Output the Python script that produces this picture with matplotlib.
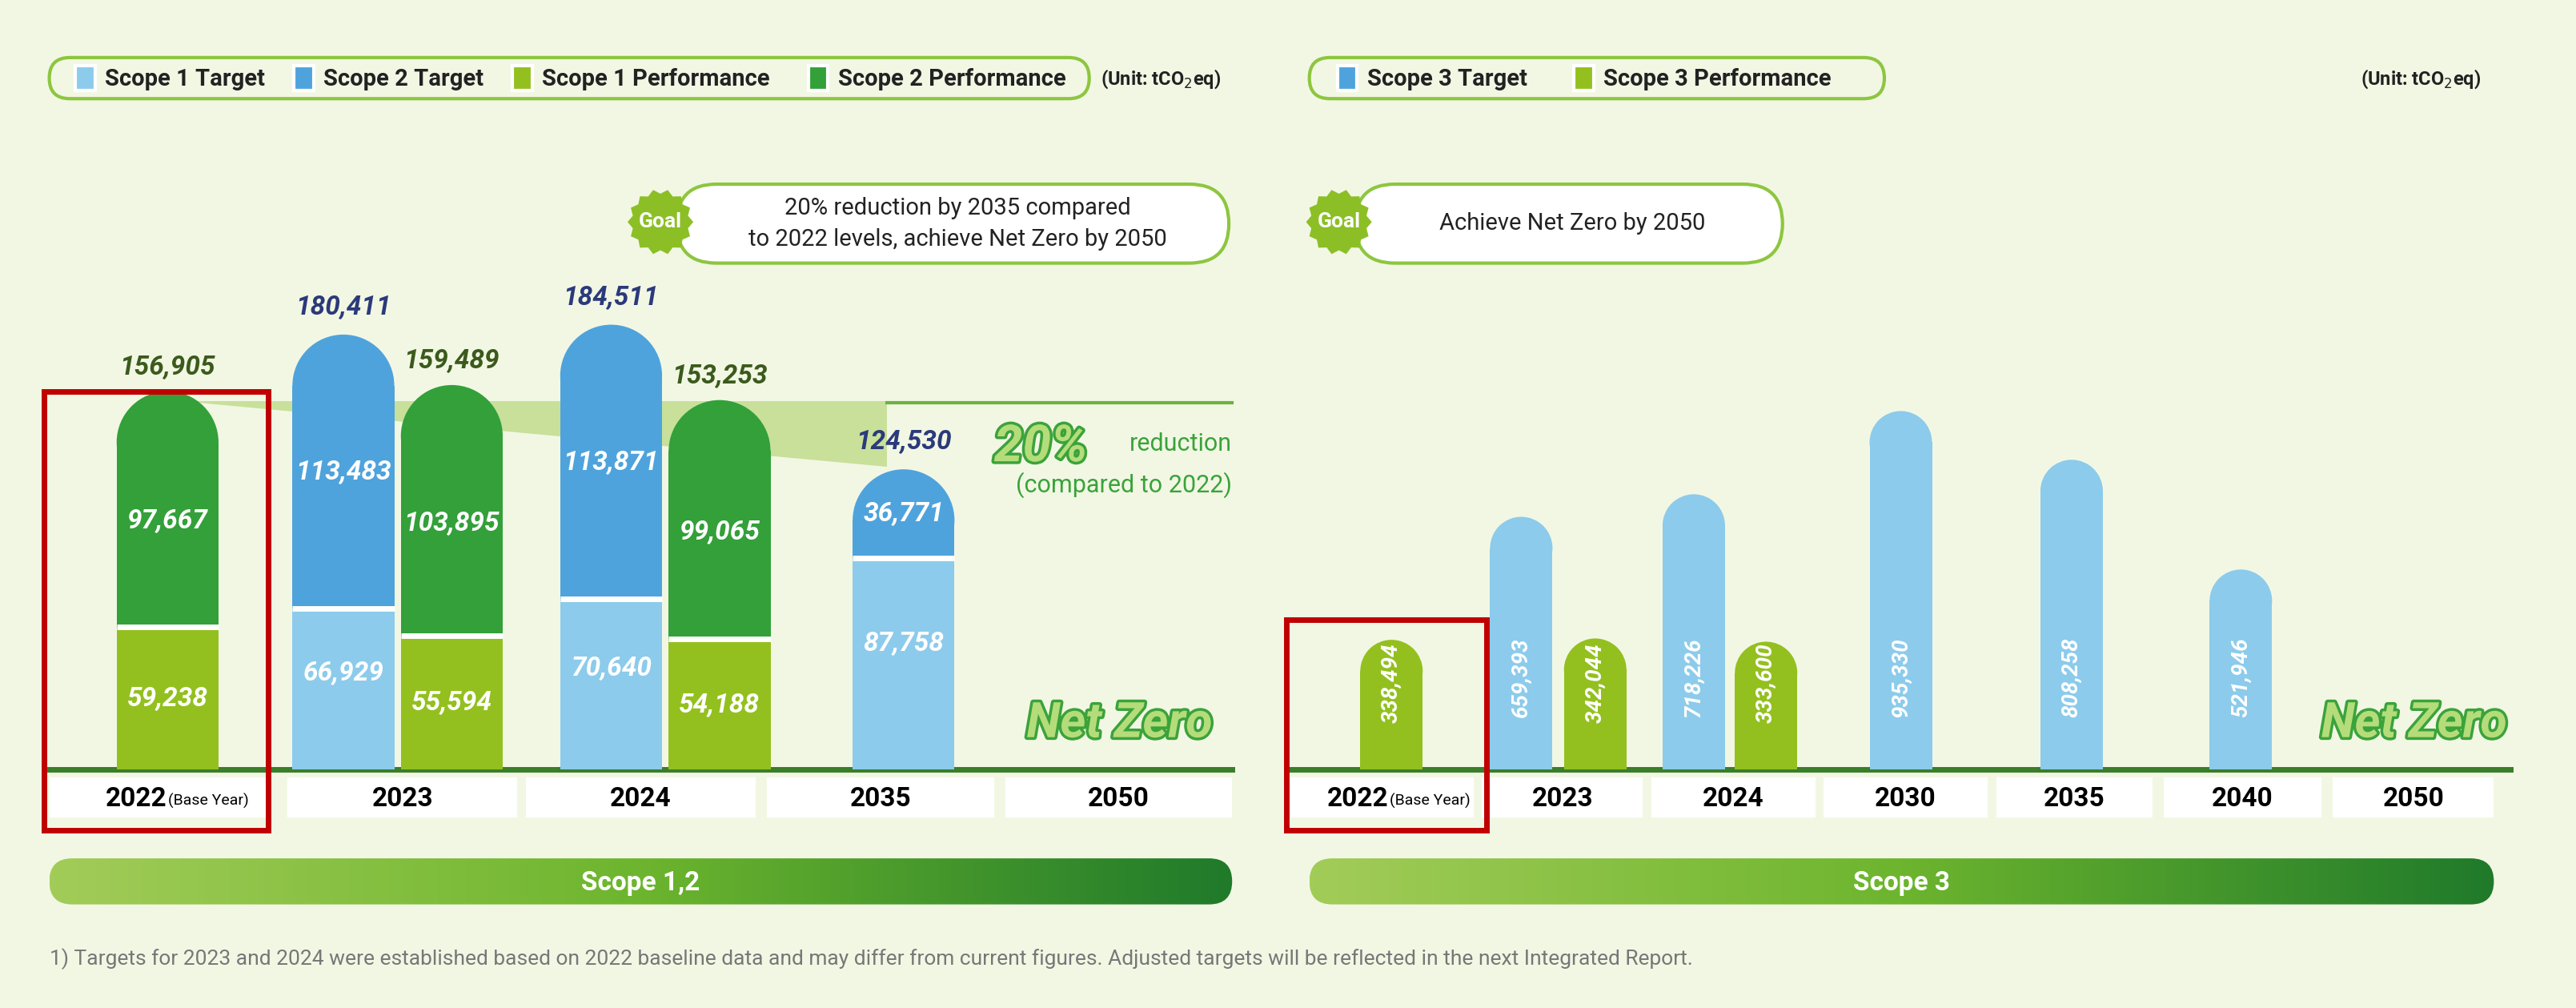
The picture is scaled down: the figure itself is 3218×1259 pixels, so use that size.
import numpy as np
import matplotlib
matplotlib.use("Agg")
import matplotlib.pyplot as plt
import matplotlib.patheffects as pe
from matplotlib.patches import Rectangle, Ellipse, FancyBboxPatch, Polygon
from matplotlib.colors import LinearSegmentedColormap

# ---------------- data ----------------
years12 = ["2022", "2023", "2024", "2035", "2050"]
s1_target = [None, 66929, 70640, 87758]
s2_target = [None, 113483, 113871, 36771]
s1_perf = [59238, 55594, 54188]
s2_perf = [97667, 103895, 99065]
tot_target = [None, 180411, 184511, 124530]
tot_perf = [156905, 159489, 153253]

years3 = ["2022", "2023", "2024", "2030", "2035", "2040", "2050"]
s3_target = [None, 659393, 718226, 935330, 808258, 521946]
s3_perf = [338494, 342044, 333600]

footnote = ("1) Targets for 2023 and 2024 were established based on 2022 baseline data and may differ "
            "from current figures. Adjusted targets will be reflected in the next Integrated Report.")

# ---------------- style ----------------
C_S1T = "#8ccbeb"; C_S2T = "#4fa3dc"; C_S1P = "#93c01f"; C_S2P = "#33a03a"
BG = "#f2f7e4"; BASE = "#3a7d2a"; NAVY = "#2b3a7a"; OLIVE = "#3b5a1c"; LGREEN = "#8dc63f"
FF = ["Liberation Sans Narrow", "Roboto", "DejaVu Sans"]
W, H = 1568.0, 613.0

fig = plt.figure(figsize=(16.09, 6.295), dpi=200, facecolor=BG)
ov = fig.add_axes([0, 0, 1, 1], zorder=0)
ov.set_xlim(0, W); ov.set_ylim(H, 0); ov.axis("off")
top = fig.add_axes([0, 0, 1, 1], zorder=3)
top.set_xlim(0, W); top.set_ylim(H, 0); top.axis("off"); top.patch.set_alpha(0)

def txt(ax, x, y, s, **kw):
    kw.setdefault("family", FF)
    return ax.text(x, y, s, **kw)

def bar_axes(x0, x1, ybase, ytop_px, per_px):
    ax = fig.add_axes([x0 / W, (H - ybase) / H, (x1 - x0) / W, (ybase - ytop_px) / H], zorder=2)
    ax.set_xlim(x0, x1); ax.set_ylim(0, (ybase - ytop_px) * per_px)
    ax.axis("off"); ax.patch.set_alpha(0)
    return ax

def seg(ax, cx, w, b, t, color, per_px, rounded):
    r = w / 2 * per_px
    if rounded:
        if t - r > b:
            ax.add_patch(Rectangle((cx - w / 2, b), w, t - r - b, fc=color, ec="none"))
        e = Ellipse((cx, t - r), w, 2 * r, fc=color, ec="none")
        ax.add_patch(e)
        clip = Rectangle((cx - w, b), 2 * w, t - b + r, transform=ax.transData, fc="none", ec="none")
        e.set_clip_path(clip)
    else:
        ax.add_patch(Rectangle((cx - w / 2, b), w, t - b, fc=color, ec="none"))
    if b > 0:
        ax.plot([cx - w / 2, cx + w / 2], [b, b], color="white", lw=2.5, solid_capstyle="butt", zorder=3)

# ---------------- left panel ----------------
PL = 682.0
axL = bar_axes(30, 750, 468, 60, PL)
bw = 62
cx_perf = [102, 275, 438]
cx_targ = [None, 209, 372, 550]

ov.add_patch(Polygon([[110, 244], [540, 244], [540, 284]], closed=True, fc="#c8e09a", ec="none"))
ov.plot([540, 750], [245, 245], color="#6cb33f", lw=1.5)

VAL = dict(color="white", ha="center", va="center", fontsize=12, fontweight="bold", style="italic", zorder=4)
for i, cx in enumerate(cx_perf):
    a, b = s1_perf[i], s2_perf[i]
    seg(axL, cx, bw, 0, a, C_S1P, PL, False)
    seg(axL, cx, bw, a, a + b, C_S2P, PL, True)
    txt(axL, cx, a * 0.5, f"{a:,}", **VAL)
    txt(axL, cx, a + b * 0.45, f"{b:,}", **VAL)
    txt(axL, cx, tot_perf[i] + 15 * PL, f"{tot_perf[i]:,}", color=OLIVE, ha="center", va="center",
        fontsize=12, style="italic", fontweight="bold")
for i, cx in enumerate(cx_targ):
    if cx is None:
        continue
    a, b = s1_target[i], s2_target[i]
    seg(axL, cx, bw, 0, a, C_S1T, PL, False)
    seg(axL, cx, bw, a, a + b, C_S2T, PL, True)
    txt(axL, cx, a * 0.6, f"{a:,}", **VAL)
    txt(axL, cx, a + b * 0.5, f"{b:,}", **VAL)
    txt(axL, cx, tot_target[i] + 17 * PL, f"{tot_target[i]:,}", color=NAVY, ha="center", va="center",
        fontsize=12, style="italic", fontweight="bold")

# ---------------- right panel ----------------
PR = 4290.0
axR = bar_axes(783, 1528, 468, 60, PR)
bw3 = 38
cx3_targ = [None, 926, 1031, 1157, 1261, 1364]
cx3_perf = [847, 971, 1075]
VAL3 = dict(VAL, fontsize=10, rotation=90)
for i, cx in enumerate(cx3_targ):
    if cx is None:
        continue
    seg(axR, cx, bw3, 0, s3_target[i], C_S1T, PR, True)
    txt(axR, cx, 240000, f"{s3_target[i]:,}", **VAL3)
for i, cx in enumerate(cx3_perf):
    seg(axR, cx, bw3, 0, s3_perf[i], C_S1P, PR, True)
    txt(axR, cx, 225000, f"{s3_perf[i]:,}", **VAL3)

ov.plot([30, 750], [468, 468], color=BASE, lw=2.5)
ov.plot([783, 1528], [468, 468], color=BASE, lw=2.5)

slots12 = [(30, 165), (175, 315), (320, 460), (467, 605), (612, 750)]
slots3 = [(785, 897), (902, 1000), (1005, 1105), (1110, 1210), (1215, 1310), (1317, 1413), (1420, 1518)]
for k, ((a, b), y) in enumerate(list(zip(slots12, years12)) + list(zip(slots3, years3))):
    ov.add_patch(Rectangle((a, 473), b - a, 24, fc="white", ec="none"))
    if k in (0, len(slots12)):
        cxm = (a + b) / 2
        txt(ov, cxm + 4, 486, "2022", ha="right", va="center", fontsize=12, fontweight="bold")
        txt(ov, cxm + 5, 487, "(Base Year)", ha="left", va="center", fontsize=7)
    else:
        txt(ov, (a + b) / 2, 486, y, ha="center", va="center", fontsize=12, fontweight="bold")

top.add_patch(Rectangle((27, 238), 136, 267, fc="none", ec="#c00000", lw=2.5))
top.add_patch(Rectangle((783, 377), 122, 128, fc="none", ec="#c00000", lw=2.5))

def pill(ax, x0, y0, x1, y1, fc, ec, lw=1.5):
    h = y1 - y0
    ax.add_patch(FancyBboxPatch((x0, y0), x1 - x0, h, boxstyle=f"round,pad=0,rounding_size={h/2}",
                                fc=fc, ec=ec, lw=lw))

pill(ov, 30, 35, 663, 60, BG, LGREEN)
leg12 = [(C_S1T, "Scope 1 Target", 52), (C_S2T, "Scope 2 Target", 185), (C_S1P, "Scope 1 Performance", 318),
         (C_S2P, "Scope 2 Performance", 498)]
LEG = dict(ha="left", va="center", fontsize=10.5, fontweight="bold", color="#222222")
for c, s, x in leg12:
    ov.add_patch(Rectangle((x - 6, 40), 12, 15, fc=c, ec="white", lw=1.5))
    txt(ov, x + 12, 48, s, **LEG)
txt(ov, 670, 48, "(Unit: tCO$_2$eq)", ha="left", va="center", fontsize=8.5, fontweight="bold", color="#222222")
pill(ov, 797, 35, 1147, 60, BG, LGREEN)
for c, s, x in [(C_S2T, "Scope 3 Target", 820), (C_S1P, "Scope 3 Performance", 964)]:
    ov.add_patch(Rectangle((x - 6, 40), 12, 15, fc=c, ec="white", lw=1.5))
    txt(ov, x + 12, 48, s, **LEG)
txt(ov, 1437, 48, "(Unit: tCO$_2$eq)", ha="left", va="center", fontsize=8.5, fontweight="bold", color="#222222")

def badge(cx, cy, r=20):
    n = 14
    ang = np.linspace(0, 2 * np.pi, 2 * n, endpoint=False)
    rr = np.where(np.arange(2 * n) % 2 == 0, r, r * 0.86)
    pts = np.c_[cx + rr * np.cos(ang), cy + rr * np.sin(ang)]
    top.add_patch(Polygon(pts, closed=True, fc="#8cbf26", ec="none", zorder=5))
    txt(top, cx, cy, "Goal", color="white", ha="center", va="center", fontsize=9.5, fontweight="bold", zorder=6)

pill(ov, 412, 112, 748, 160, "white", LGREEN)
badge(402, 135)
txt(ov, 583, 136, "20% reduction by 2035 compared\nto 2022 levels, achieve Net Zero by 2050",
    ha="center", va="center", fontsize=10.5, color="#222222", linespacing=1.5)
pill(ov, 825, 112, 1085, 160, "white", LGREEN)
badge(815, 135)
txt(ov, 957, 136, "Achieve Net Zero by 2050", ha="center", va="center", fontsize=10.5, color="#222222")

STROKE = [pe.withStroke(linewidth=2.5, foreground="#3aa33a")]
txt(ov, 662, 272, "20%", ha="right", va="center", fontsize=23, fontweight="bold", style="italic",
    color="#b5dc7a", path_effects=STROKE)
txt(ov, 750, 270, "reduction", ha="right", va="center", fontsize=11, color="#3aa33a")
txt(ov, 750, 295, "(compared to 2022)", ha="right", va="center", fontsize=11, color="#3aa33a")
for x in (738, 1526):
    txt(ov, x, 440, "Net Zero", ha="right", va="center", fontsize=22, fontweight="bold", style="italic",
        color="#b5dc7a", path_effects=STROKE)

cmap = LinearSegmentedColormap.from_list("g", ["#a2cc58", "#6db52e", "#1f7a2a"])
grad = np.linspace(0, 1, 256)[None, :]
for x0, x1, lab in [(30, 750, "Scope 1,2"), (797, 1518, "Scope 3")]:
    clip = FancyBboxPatch((x0, 522), x1 - x0, 28, boxstyle="round,pad=0,rounding_size=14",
                          fc="none", ec="none")
    ov.add_patch(clip)
    im = ov.imshow(grad, cmap=cmap, extent=[x0, x1, 550, 522], aspect="auto", zorder=1)
    im.set_clip_path(clip)
    txt(ov, (x0 + x1) / 2, 537, lab, ha="center", va="center", fontsize=12, fontweight="bold",
        color="white", zorder=2)
ov.set_xlim(0, W); ov.set_ylim(H, 0)

txt(ov, 30, 583, footnote, ha="left", va="center", fontsize=9.5, color="#777777")

fig.savefig("out.png", dpi=200, facecolor=BG)
